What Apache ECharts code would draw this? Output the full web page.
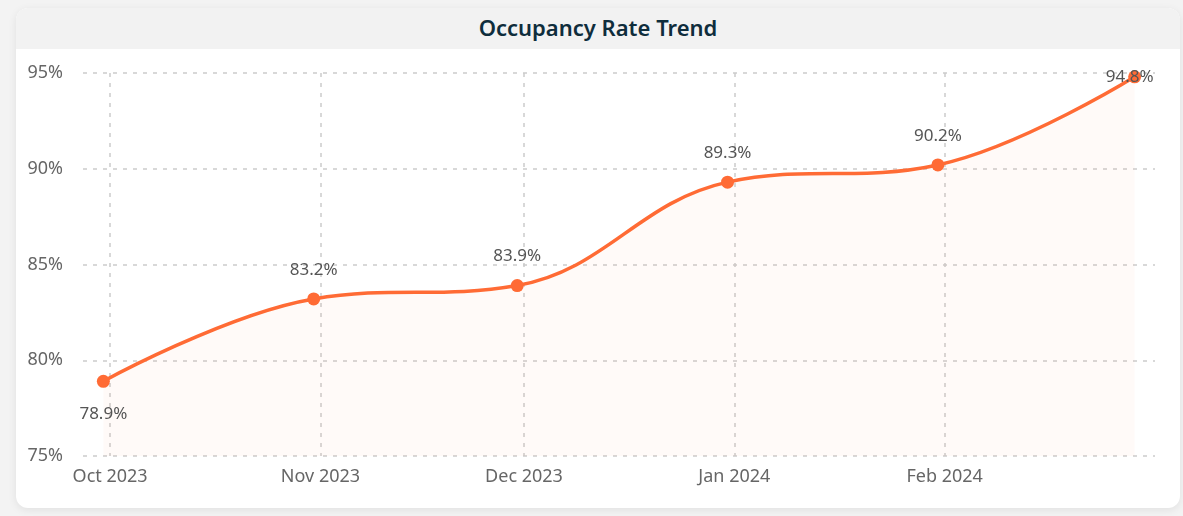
<!DOCTYPE html>
<html>
<head>
<meta charset="utf-8">
<title>Occupancy Rate Trend</title>
<script src="https://cdn.jsdelivr.net/npm/echarts@6/dist/echarts.min.js"></script>
<style>
  html, body {
    margin: 0;
    padding: 0;
    width: 1183px;
    height: 516px;
    overflow: hidden;
    background: #f3f3f3;
    font-family: "Noto Sans", "Open Sans", sans-serif;
  }
  .chart-card {
    position: absolute;
    left: 16px;
    top: 8px;
    width: 1164px;
    height: 500px;
    background: #fff;
    border-radius: 12px;
    box-shadow: 0 2px 8px rgba(0, 0, 0, 0.08);
    overflow: hidden;
  }
  .chart-header {
    height: 41px;
    background: #f2f2f2;
    display: flex;
    align-items: center;
    justify-content: center;
  }
  .chart-title {
    font-weight: 600;
    font-size: 22px;
    color: #0f2d3c;
    margin-top: -4px;
  }
  .chart-body {
    width: 1164px;
    height: 459px;
  }
</style>
</head>
<body>
<div class="chart-card">
  <div class="chart-header">
    <span class="chart-title">Occupancy Rate Trend</span>
  </div>
  <div id="chart" class="chart-body"></div>
</div>
<script>
// month-end snapshots
const dates = ['2023-09-30', '2023-10-31', '2023-11-30', '2023-12-31', '2024-01-31', '2024-02-29']
const occupancy = [78.9, 83.2, 83.9, 89.3, 90.2, 94.8]
const monthTicks = ['2023-10-01', '2023-11-01', '2023-12-01', '2024-01-01', '2024-02-01']
const monthNames = ['Jan', 'Feb', 'Mar', 'Apr', 'May', 'Jun', 'Jul', 'Aug', 'Sep', 'Oct', 'Nov', 'Dec']

const toTime = (s) => {
  const [y, m, d] = s.split('-').map(Number)
  return new Date(y, m - 1, d).getTime()
}
const tickValues = monthTicks.map(toTime)

const chart = echarts.init(document.getElementById('chart'))

const gridColor = '#cccccc'

chart.setOption({
  animation: false,
  textStyle: { fontFamily: '"Noto Sans", "Open Sans", sans-serif' },
  grid: { left: 67, right: 25, top: 24, bottom: 52 },
  xAxis: {
    type: 'time',
    min: toTime('2023-09-27'),
    max: toTime('2024-03-03'),
    axisLine: { show: false },
    axisTick: { show: false },
    axisLabel: {
      color: '#666',
      fontSize: 18,
      margin: 12,
      formatter: (v) => {
        if (tickValues.indexOf(v) < 0) return ''
        const d = new Date(v)
        return monthNames[d.getMonth()] + ' ' + d.getFullYear()
      }
    },
    // last monthly line (Mar 1) is not drawn in the reference
    splitLine: {
      show: true,
      showMinLine: false,
      showMaxLine: false,
      lineStyle: {
        color: [gridColor, gridColor, gridColor, gridColor, gridColor, 'rgba(0,0,0,0)'],
        width: 1.5,
        type: [4, 6]
      }
    }
  },
  yAxis: {
    type: 'value',
    min: 75,
    max: 95,
    interval: 5,
    axisLine: { show: false },
    axisTick: { show: false },
    axisLabel: { color: '#666', fontSize: 18, margin: 20, formatter: '{value}%' },
    splitLine: { lineStyle: { color: gridColor, width: 1.5, type: [4, 6] } }
  },
  series: [
    {
      type: 'line',
      data: dates.map((d, i) => {
        const item = { value: [toTime(d), occupancy[i]] }
        if (i === 0) item.label = { position: 'bottom', distance: 18 }
        if (i === dates.length - 1) item.label = { position: 'inside', offset: [-5, 0] }
        return item
      }),
      smooth: 0.4,
      symbol: 'circle',
      symbolSize: 13,
      lineStyle: { width: 3.5, color: '#ff6b35' },
      itemStyle: { color: '#ff6b35' },
      areaStyle: { color: 'rgba(255, 107, 53, 0.05)' },
      label: {
        show: true,
        position: 'top',
        distance: 14,
        color: '#555',
        fontSize: 17,
        formatter: (p) => p.value[1].toFixed(1) + '%'
      }
    }
  ]
})
</script>
</body>
</html>
